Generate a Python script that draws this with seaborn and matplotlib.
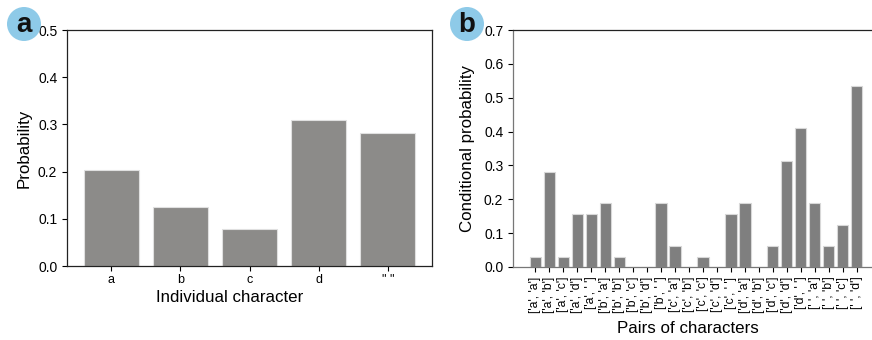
import matplotlib
matplotlib.use("Agg")
import matplotlib.pyplot as plt
import seaborn as sns
import pandas as pd
from matplotlib.patches import Circle

chars = ["a", "b", "c", "d", '" "']
char_prob = [0.203, 0.125, 0.078, 0.310, 0.281]

pair_labels = ["['a', 'a']", "['a', 'b']", "['a', 'c']", "['a', 'd']", "['a', ' ']",
               "['b', 'a']", "['b', 'b']", "['b', 'c']", "['b', 'd']", "['b', ' ']",
               "['c', 'a']", "['c', 'b']", "['c', 'c']", "['c', 'd']", "['c', ' ']",
               "['d', 'a']", "['d', 'b']", "['d', 'c']", "['d', 'd']", "['d', ' ']",
               "[' ', 'a']", "[' ', 'b']", "[' ', 'c']", "[' ', 'd']"]
pair_prob = [0.031, 0.281, 0.031, 0.156, 0.156,
             0.188, 0.031, 0.0, 0.0, 0.188,
             0.0625, 0.0, 0.031, 0.0, 0.156,
             0.188, 0.0, 0.0625, 0.3125, 0.41,
             0.188, 0.0625, 0.125, 0.535]

plt.rcParams['font.family'] = ['Liberation Sans', 'DejaVu Sans']

W, H = 872, 340
fig = plt.figure(figsize=(W / 100, H / 100), dpi=100)

def rect(l, t, r, b):
    return [l / W, 1 - b / H, (r - l) / W, (b - t) / H]

# Panel a
ax1 = fig.add_axes(rect(67, 30, 432, 266))
df1 = pd.DataFrame({"char": chars, "prob": char_prob})
sns.barplot(data=df1, x="char", y="prob", ax=ax1, color="#8c8b89",
            saturation=1, width=0.8, edgecolor="#e0e0e0", linewidth=0.8)
ax1.set_xlim(-0.64, 4.64)
ax1.set_ylim(0, 0.5)
ax1.set_yticks([0.0, 0.1, 0.2, 0.3, 0.4, 0.5])
ax1.set_yticklabels(["0.0", "0.1", "0.2", "0.3", "0.4", "0.5"])
ax1.tick_params(axis="y", labelsize=10, length=3.5, width=0.8)
ax1.tick_params(axis="x", labelsize=9, length=3.5, width=0.8, pad=2.5)
ax1.set_xlabel("Individual character", fontsize=12.2)
ax1.set_ylabel("Probability", fontsize=12.2)
ax1.xaxis.set_label_coords(0.445, -0.10)
ax1.yaxis.set_label_coords(-0.096, 0.5)
for s in ax1.spines.values():
    s.set_color("#222222")
    s.set_linewidth(0.9)

# Panel b
ax2 = fig.add_axes(rect(513, 30, 879, 267))
df2 = pd.DataFrame({"pair": pair_labels, "prob": pair_prob})
sns.barplot(data=df2, x="pair", y="prob", ax=ax2, color="#7f7f7f",
            saturation=1, width=0.8, edgecolor="#d8d8d8", linewidth=0.8)
ax2.set_xlim(-1.59, 24.59)
ax2.set_ylim(0, 0.7)
ax2.set_yticks([0.0, 0.1, 0.2, 0.3, 0.4, 0.5, 0.6, 0.7])
ax2.set_yticklabels(["0.0", "0.1", "0.2", "0.3", "0.4", "0.5", "0.6", "0.7"])
ax2.tick_params(axis="y", labelsize=10, length=3.5, width=0.8)
ax2.tick_params(axis="x", labelsize=8.8, length=3.5, width=0.8, rotation=90)
ax2.set_xlabel("Pairs of characters", fontsize=12.2)
ax2.set_ylabel("Conditional probability", fontsize=12.2)
ax2.xaxis.set_label_coords(0.477, -0.228)
ax2.yaxis.set_label_coords(-0.104, 0.5)
for name, s in ax2.spines.items():
    s.set_linewidth(0.9)
    s.set_color("#222222" if name == "top" else "#777777")

# Badges
for cx, cy, letter in [(24, 24, "a"), (467, 24, "b")]:
    fig.patches.append(Circle((cx, H - cy), 17, transform=None,
                              facecolor="#8ecae8", edgecolor="none"))
    fig.text(cx / W, 1 - (cy + 1) / H, letter, ha="center", va="center",
             fontsize=20, fontweight="bold", color="#111111")

fig.savefig("out.png", dpi=100)
